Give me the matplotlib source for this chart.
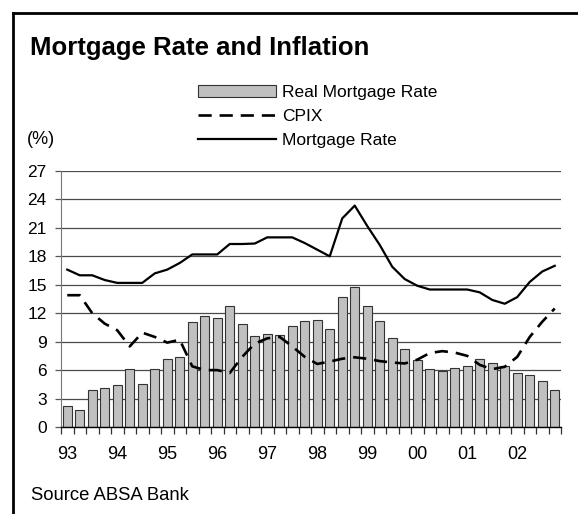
import matplotlib
matplotlib.use("Agg")
import matplotlib.pyplot as plt
import numpy as np

# quarterly data 93Q1 .. 02Q4
real_rate = [2.2, 1.8, 3.9, 4.1, 4.4, 6.1, 4.5, 6.1, 7.2, 7.4,
             11.1, 11.7, 11.5, 12.8, 10.9, 9.6, 9.8, 9.7, 10.6, 11.2,
             11.3, 10.3, 13.7, 14.8, 12.8, 11.2, 9.4, 8.2, 7.1, 6.1,
             5.9, 6.2, 6.4, 7.2, 6.8, 6.4, 5.7, 5.5, 4.9, 3.9]
cpix = [13.9, 13.9, 12.0, 10.9, 10.2, 8.5, 9.95, 9.5, 8.9, 9.2,
        6.4, 6.0, 6.0, 5.7, 7.4, 8.8, 9.35, 9.5, 8.5, 7.4,
        6.65, 6.9, 7.2, 7.35, 7.2, 6.95, 6.8, 6.7, 7.1, 7.8,
        8.0, 7.85, 7.5, 6.55, 6.1, 6.35, 7.4, 9.5, 11.1, 12.5]
mortgage = [16.6, 16.0, 16.0, 15.5, 15.2, 15.2, 15.2, 16.2, 16.6, 17.3,
            18.2, 18.2, 18.2, 19.3, 19.3, 19.35, 20.0, 20.0, 20.0, 19.4,
            18.7, 18.0, 22.0, 23.35, 21.2, 19.2, 16.9, 15.6, 14.9, 14.5,
            14.5, 14.5, 14.5, 14.2, 13.4, 13.0, 13.7, 15.3, 16.4, 17.0]
year_labels = ['93', '94', '95', '96', '97', '98', '99', '00', '01', '02']
y_ticks = [0, 3, 6, 9, 12, 15, 18, 21, 24, 27]

plt.rcParams['font.family'] = ['Liberation Sans', 'DejaVu Sans']

W, H = 578, 514
fig = plt.figure(figsize=(W / 100, H / 100), dpi=100)

def fx(px):
    return px / W

def fy(py):
    return 1 - py / H

ax = fig.add_axes([fx(61), fy(427), fx(561) - fx(61), fy(171) - fy(427)])

x = np.arange(len(real_rate))
bars = ax.bar(x, real_rate, width=0.72, color='#c0c0c0', edgecolor='#333333',
              linewidth=0.8, label='Real Mortgage Rate', zorder=2)
l_cpix, = ax.plot(x, cpix, color='black', linewidth=1.9, dashes=(5, 3),
                  label='CPIX', zorder=3)
l_mort, = ax.plot(x, mortgage, color='black', linewidth=1.6,
                  label='Mortgage Rate', zorder=3)

ax.set_xlim(-0.5, len(real_rate) - 0.5)
ax.set_ylim(0, 27)
ax.set_yticks(y_ticks)
ax.yaxis.grid(True, color='#4a4a4a', linewidth=0.9, zorder=0)
ax.set_axisbelow(True)

ax.set_xticks(x[::4])
ax.set_xticklabels(year_labels)
ax.set_xticks(np.arange(len(real_rate) + 1) - 0.5, minor=True)
ax.tick_params(axis='x', which='major', length=0, pad=14, labelsize=13)
ax.tick_params(axis='x', which='minor', length=5, width=0.9, color='#333333')
ax.tick_params(axis='y', length=4.3, width=0.9, color='#555555', pad=6,
               labelsize=12.5)

for s in ['top', 'right']:
    ax.spines[s].set_visible(False)
ax.spines['left'].set_color('#777777')
ax.spines['bottom'].set_color('black')
ax.spines['bottom'].set_linewidth(1.0)

fig.legend(handles=[bars, l_cpix, l_mort], loc='upper left',
           bbox_to_anchor=(fx(198), fy(85)), frameon=False, fontsize=12.5,
           handlelength=4.5, handletextpad=0.35, labelspacing=0.5,
           borderpad=0, borderaxespad=0)

fig.text(fx(30), fy(55), 'Mortgage Rate and Inflation', fontsize=18.5,
         fontweight='bold', va='baseline', ha='left')
fig.text(fx(27), fy(144), '(%)', fontsize=13, va='baseline', ha='left')
fig.text(fx(31), fy(500), 'Source ABSA Bank', fontsize=13.3, va='baseline',
         ha='left')

# frame lines on top and left
fig.add_artist(plt.Line2D([fx(13), 1], [fy(13), fy(13)], color='black',
                          linewidth=2, transform=fig.transFigure))
fig.add_artist(plt.Line2D([fx(13), fx(13)], [fy(13), 0], color='black',
                          linewidth=2, transform=fig.transFigure))

fig.savefig('out.png', dpi=100)
